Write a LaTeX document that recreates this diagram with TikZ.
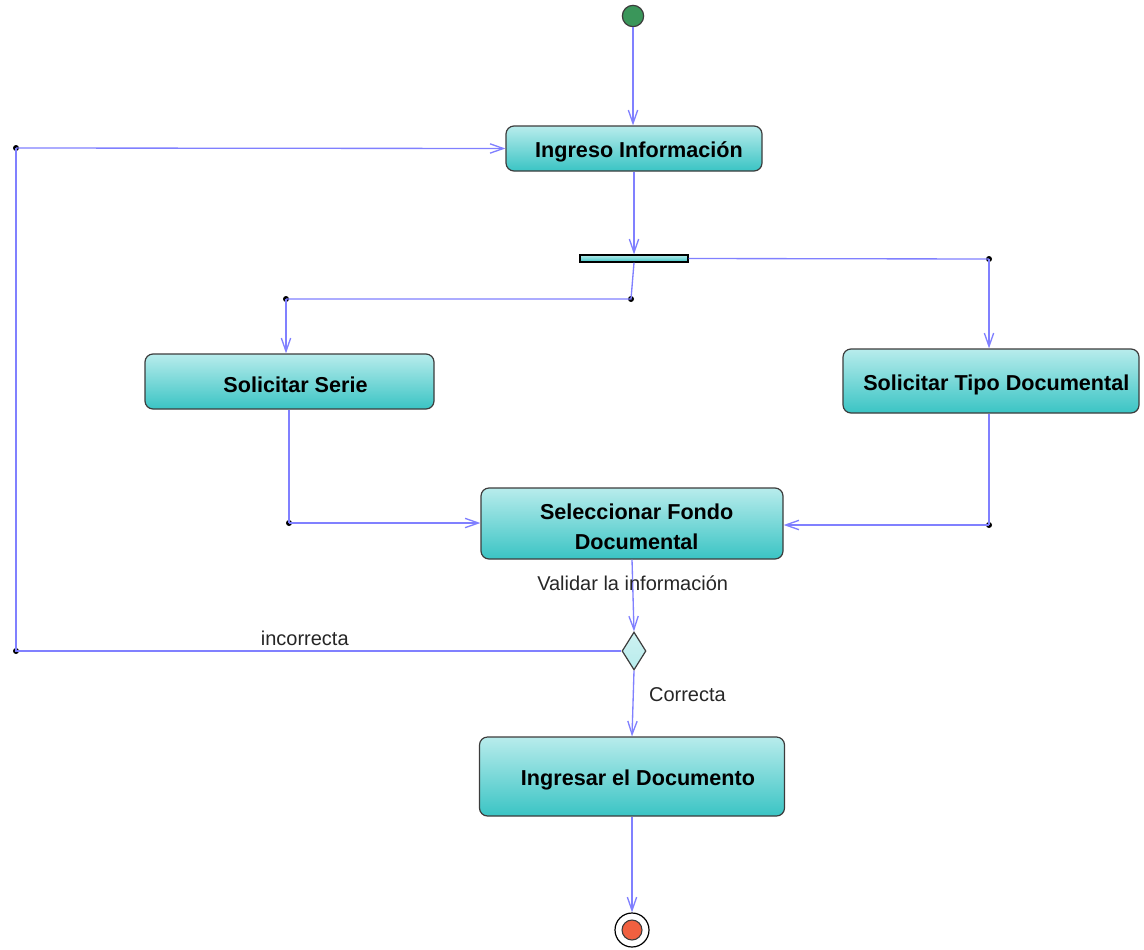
\documentclass[tikz,border=0pt]{standalone}
\usepackage{fontspec}
\setmainfont{Liberation Sans}
\usetikzlibrary{arrows.meta,shapes.geometric}
\definecolor{flow}{RGB}{128,128,255}
\definecolor{boxtop}{RGB}{184,236,236}
\definecolor{boxbot}{RGB}{58,196,196}
\definecolor{edge}{RGB}{60,60,60}
\definecolor{startg}{RGB}{58,150,90}
\definecolor{endr}{RGB}{240,96,64}
\newcommand{\boxtext}[1]{\raisebox{-2.6pt}[\height][\depth]{#1}}
\begin{document}
\begin{tikzpicture}[x=0.75pt,y=-0.75pt,
  act/.style={draw=edge, line width=0.9pt, rounded corners=6pt, top color=boxtop, bottom color=boxbot,
    font=\fontsize{16.2}{22.5}\selectfont\bfseries, inner sep=0pt, align=center},
  forkbar/.style={draw=black, line width=0.9pt, top color=boxtop, bottom color=boxbot,
    minimum width=81pt, minimum height=5.25pt, inner sep=0pt},
  decision/.style={diamond, draw=edge, line width=0.9pt, top color=boxtop!70!white, bottom color=boxtop,
    minimum width=18pt, minimum height=28.5pt, inner sep=0pt, shape aspect=0.63},
  startnode/.style={circle, draw=edge, line width=0.9pt, fill=startg, minimum size=16pt, inner sep=0pt},
  endouter/.style={circle, draw=black, line width=0.9pt, fill=white, minimum size=25.5pt, inner sep=0pt},
  endinner/.style={circle, draw=edge, line width=0.8pt, fill=endr, minimum size=15pt, inner sep=0pt},
  flowline/.style={draw=flow, line width=1pt},
  arr/.style={flowline, -{Straight Barb[length=10pt,width=7pt]}},
  jdot/.style={circle, fill=black, minimum size=4.5pt, inner sep=0pt},
  lbl/.style={font=\fontsize{15}{18}\selectfont, text=black!85}]
\useasboundingbox (0,0) rectangle (1144,949);

% nodes
\node[startnode] (start) at (633,16) {};
\node[act, minimum width=192pt, minimum height=33.75pt] (ingreso) at (634,148.5) {\boxtext{\hspace*{7.5pt}Ingreso Información}};
\node[forkbar] (fork) at (634,258.5) {};
\node[jdot] (d1) at (631,299) {};
\node[jdot] (d2) at (286,299) {};
\node[jdot] (d3) at (989,259) {};
\node[act, minimum width=216.75pt, minimum height=41.25pt] (serie) at (289.5,381.5) {\boxtext{\hspace*{9pt}Solicitar Serie}};
\node[act, minimum width=222pt, minimum height=48pt] (tipo) at (991,381) {\boxtext{\hspace*{8pt}Solicitar Tipo Documental}};
\node[act, minimum width=226.5pt, minimum height=53.25pt] (selec) at (632,523.5) {\boxtext{\hspace*{7pt}Seleccionar Fondo}\\\boxtext{\hspace*{7pt}Documental}};
\node[jdot] (d4) at (289,523) {};
\node[jdot] (d5) at (989,525) {};
\node[decision] (dec) at (634,651) {};
\node[jdot] (d6) at (16,651) {};
\node[jdot] (d7) at (16,148) {};
\node[act, minimum width=228.75pt, minimum height=59.25pt] (ingresar) at (632,776.5) {\boxtext{\hspace*{9pt}Ingresar el Documento}};
\node[endouter] (end) at (632,930) {};
\node[endinner] (endin) at (632,930) {};

% connectors
\draw[arr] (start.south) -- (start.south |- ingreso.north);
\draw[arr] (ingreso.south) -- (fork.north);
\draw[flowline] (fork.south) -- (d1.center) -- (d2.center);
\draw[arr] (d2.center) -- (d2.center |- serie.north);
\draw[flowline] (fork.east) -- (d3.center);
\draw[arr] (d3.center) -- (d3.center |- tipo.north);
\draw[flowline] (serie.south -| d4) -- (d4.center);
\draw[arr] (d4.center) -- (d4.center -| selec.west);
\draw[flowline] (tipo.south -| d5) -- (d5.center);
\draw[arr] (d5.center) -- (d5.center -| selec.east);
\draw[arr] (selec.south) -- (dec.north) node[lbl, pos=0.33] {Validar la información};
\draw[flowline] (dec.west) -- (d6.center) node[lbl, pos=0.523, yshift=9.75pt] {incorrecta} -- (d7.center);
\draw[arr] (d7.center) -- (ingreso.west);
\draw[arr] (dec.south) -- (ingresar.north) node[lbl, pos=0.36, anchor=west, xshift=8pt] {Correcta};
\draw[arr] (ingresar.south) -- (end.north);
\end{tikzpicture}
\end{document}
